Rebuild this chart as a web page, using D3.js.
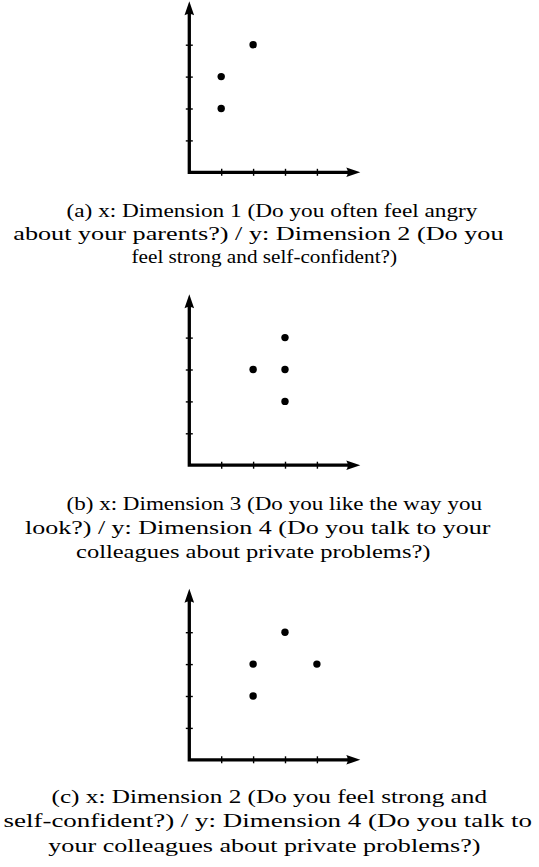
<!DOCTYPE html>
<html>
<head>
<meta charset="utf-8">
<script src="https://cdn.jsdelivr.net/npm/d3@7"></script>
<style>
  html, body { margin: 0; padding: 0; background: #fff; }
  svg { display: block; }
  .cap { font-family: "Liberation Serif", "DejaVu Serif", serif; font-size: 19px; fill: #000; }
</style>
</head>
<body>
<svg id="chart" width="539" height="867"></svg>
<script>
// ---- data ----
const panelLabels = ["(a)", "(b)", "(c)"];
const tickValues = [1, 2, 3, 4];
const xA = [1, 1, 2];
const yA = [2, 3, 4];
const xB = [2, 3, 3, 3];
const yB = [3, 4, 3, 2];
const xC = [3, 2, 4, 2];
const yC = [4, 3, 3, 2];
const captionA = [
  "(a) x: Dimension 1 (Do you often feel angry",
  "about your parents?) / y: Dimension 2 (Do you",
  "feel strong and self-confident?)"
];
const captionB = [
  "(b) x: Dimension 3 (Do you like the way you",
  "look?) / y: Dimension 4 (Do you talk to your",
  "colleagues about private problems?)"
];
const captionC = [
  "(c) x: Dimension 2 (Do you feel strong and",
  "self-confident?) / y: Dimension 4 (Do you talk to",
  "your colleagues about private problems?)"
];

// ---- layout ----
const originX = 189.3;
const unit = 31.9;
const axisMax = 5.36;
const panelAxisY = [172.3, 465.2, 759.8];
const captionLayout = [
  [[66.5, 477.5, 216.5], [13.3, 503.5, 240], [131.5, 397, 263.3]],
  [[66.5, 482, 510], [25, 490.5, 534.2], [76, 430.5, 558]],
  [[51.5, 487, 803.3], [3.5, 532, 827.3], [48.3, 480.5, 851.5]]
];

const panels = [
  { xs: xA, ys: yA, cap: captionA },
  { xs: xB, ys: yB, cap: captionB },
  { xs: xC, ys: yC, cap: captionC }
];

const svg = d3.select("#chart");

panels.forEach((p, i) => {
  const ay = panelAxisY[i];
  const x = d3.scaleLinear().domain([0, 5]).range([originX, originX + 5 * unit]);
  const y = d3.scaleLinear().domain([0, 5]).range([ay, ay - 5 * unit]);
  const g = svg.append("g");

  // ticks (crossing the axis)
  const gx = g.append("g")
    .attr("transform", `translate(0,${ay - 3.5})`)
    .call(d3.axisBottom(x).tickValues(tickValues).tickSize(7).tickFormat(""));
  gx.select(".domain").remove();
  gx.selectAll(".tick line").attr("stroke", "#000").attr("stroke-width", 1.4);

  const gy = g.append("g")
    .attr("transform", `translate(${originX + 3.5},0)`)
    .call(d3.axisLeft(y).tickValues(tickValues).tickSize(7).tickFormat(""));
  gy.select(".domain").remove();
  gy.selectAll(".tick line").attr("stroke", "#000").attr("stroke-width", 1.4);

  // axis lines
  const headLen = 14;
  const headHalf = 4.8;
  g.append("path")
    .attr("d", d3.line()([
      [x(0), y(axisMax) + headLen - 3],
      [x(0), y(0)],
      [x(axisMax) - headLen + 3, y(0)]
    ]))
    .attr("fill", "none")
    .attr("stroke", "#000")
    .attr("stroke-width", 3.3)
    .attr("stroke-linejoin", "miter")
    .attr("stroke-linecap", "butt");

  // arrow heads
  const tY = [x(0), y(axisMax)];
  g.append("path")
    .attr("d", `M${tY[0]},${tY[1]} L${tY[0] + headHalf},${tY[1] + headLen} Q${tY[0]},${tY[1] + headLen - 3} ${tY[0] - headHalf},${tY[1] + headLen} Z`)
    .attr("fill", "#000");
  const tX = [x(axisMax), y(0)];
  g.append("path")
    .attr("d", `M${tX[0]},${tX[1]} L${tX[0] - headLen},${tX[1] - headHalf} Q${tX[0] - headLen + 3},${tX[1]} ${tX[0] - headLen},${tX[1] + headHalf} Z`)
    .attr("fill", "#000");

  // points
  g.selectAll("circle")
    .data(p.xs.map((v, k) => [v, p.ys[k]]))
    .join("circle")
    .attr("cx", d => x(d[0]))
    .attr("cy", d => y(d[1]))
    .attr("r", 3.7)
    .attr("fill", "#000");

  // caption
  p.cap.forEach((line, k) => {
    const [x0, x1, base] = captionLayout[i][k];
    svg.append("text")
      .attr("class", "cap")
      .attr("x", x0)
      .attr("y", base)
      .attr("textLength", x1 - x0)
      .attr("lengthAdjust", "spacingAndGlyphs")
      .text(line);
  });
});
</script>
</body>
</html>
